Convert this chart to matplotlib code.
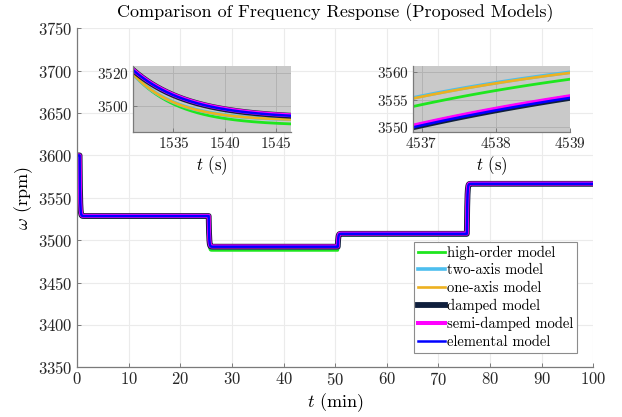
import numpy as np
import matplotlib
matplotlib.use("Agg")
import matplotlib.pyplot as plt

plt.rcParams['font.family'] = ['cmr10', 'DejaVu Serif']
plt.rcParams['mathtext.fontset'] = 'cm'
plt.rcParams['axes.formatter.use_mathtext'] = True

# load steps (s) and the speed level (rpm) each model settles to after every step
step_times = [30, 1530, 3030, 4530]
t_end = 6000

labels = ['high-order model', 'two-axis model', 'one-axis model',
          'damped model', 'semi-damped model', 'elemental model']
colors = ['#1ee61e', '#4dbeee', '#edb120', '#0f1f3d', '#ff00ff', '#0000ff']
widths = [2.0, 2.6, 1.9, 4.2, 2.9, 1.8]

levels_high = [3600, 3528.0, 3488.0, 3506.0, 3567.0]
levels_two = [3600, 3528.0, 3491.1, 3506.6, 3567.1]
levels_one = [3600, 3528.0, 3491.0, 3506.5, 3567.0]
levels_damped = [3600, 3528.5, 3492.3, 3507.5, 3566.5]
levels_semi = [3600, 3528.7, 3492.6, 3507.8, 3566.8]
levels_elem = [3600, 3528.5, 3492.3, 3507.5, 3566.5]
all_levels = [levels_high, levels_two, levels_one, levels_damped, levels_semi, levels_elem]

# settling time constant (s) of each model
taus = [4.5, 4.2, 4.2, 5.4, 5.4, 5.4]

t = np.arange(0, t_end + 0.05, 0.05)


def response(levels, tau):
    w = np.full_like(t, levels[0], dtype=float)
    prev = levels[0]
    for k, ts in enumerate(step_times):
        nxt = step_times[k + 1] if k + 1 < len(step_times) else t_end + 1
        m = (t >= ts) & (t < nxt)
        w[m] = levels[k + 1] + (prev - levels[k + 1]) * np.exp(-(t[m] - ts) / tau)
        prev = w[m][-1]
    return w


curves = [response(lv, tau) for lv, tau in zip(all_levels, taus)]

fig = plt.figure(figsize=(6.22, 4.17), dpi=100)
ax = fig.add_axes([0.1238, 0.1192, 0.8301, 0.8129])

spine_col = '#7a7a7a'


def style(a, fs):
    for s in ['top', 'right']:
        a.spines[s].set_visible(False)
    for s in ['left', 'bottom']:
        a.spines[s].set_color(spine_col)
        a.spines[s].set_linewidth(0.9)
    a.tick_params(direction='in', length=3, width=0.7, color=spine_col,
                  labelsize=fs, labelcolor='#262626', pad=3)


for w, c, lw, lab in zip(curves, colors, widths, labels):
    ax.plot(t / 60, w, color=c, lw=lw, label=lab, solid_joinstyle='round')
ax.set_xlim(0, 100)
ax.set_ylim(3350, 3750)
ax.set_xticks(np.arange(0, 101, 10))
ax.set_yticks(np.arange(3350, 3751, 50))
ax.grid(True, color='#ebebeb', lw=0.8)
ax.set_axisbelow(True)
style(ax, 12)
ax.set_xlabel(r'$t$ (min)', fontsize=13, labelpad=2)
ax.set_ylabel(r'$\omega$ (rpm)', fontsize=13, labelpad=2)
ax.set_title('Comparison of Frequency Response (Proposed Models)', fontsize=13, pad=8)

leg = ax.legend(loc='lower right', bbox_to_anchor=(0.928, 0.153),
                bbox_transform=fig.transFigure, borderaxespad=0, fontsize=10.5,
                handlelength=1.9, handletextpad=0.1, labelspacing=0.27,
                borderpad=0.28, fancybox=False, framealpha=1, edgecolor='#8c8c8c')
leg.get_frame().set_linewidth(0.8)

# zoomed views around two of the load steps
insets = [
    ([0.2143, 0.6827, 0.2531, 0.1597], (1531.1, 1546.4), (3483.9, 3524.6),
     [1535, 1540, 1545], [3500, 3520]),
    ([0.6635, 0.6827, 0.2529, 0.1597], (4536.88, 4539.0), (3549.1, 3561.2),
     [4537, 4538, 4539], [3550, 3555, 3560]),
]
for rect, xl, yl, xt, yt in insets:
    ia = fig.add_axes(rect)
    ia.set_facecolor('#c9c9c9')
    for w, c, lw in zip(curves, colors, widths):
        ia.plot(t, w, color=c, lw=lw)
    ia.set_xlim(*xl)
    ia.set_ylim(*yl)
    ia.set_xticks(xt)
    ia.set_yticks(yt)
    ia.grid(True, color='#b3b3b3', lw=0.7)
    ia.set_axisbelow(True)
    style(ia, 11)
    ia.set_xlabel(r'$t$ (s)', fontsize=12, labelpad=2)

fig.savefig('out.png', dpi=100)
